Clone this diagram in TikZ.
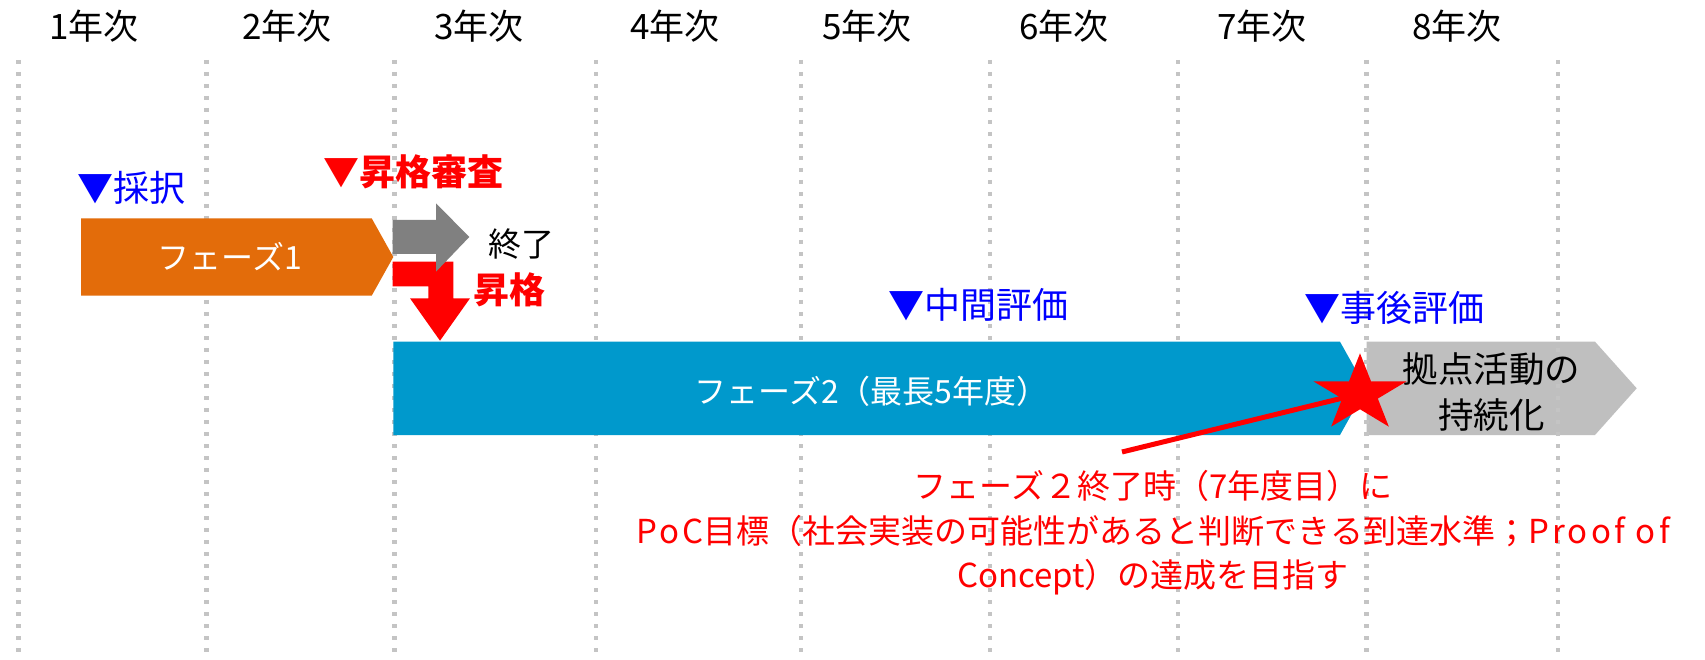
\documentclass[tikz,border=0pt]{standalone}
\usepackage{fontspec}
\setmainfont{Noto Sans CJK JP}
\definecolor{orng}{HTML}{E36C0A}
\definecolor{cyanbar}{HTML}{0099CC}
\definecolor{grayarrow}{HTML}{808080}
\definecolor{graybox}{HTML}{BFBFBF}
\definecolor{dotgray}{HTML}{C4C4C4}
\definecolor{pured}{HTML}{FF0000}
\definecolor{publ}{HTML}{0000FF}
\newcommand{\wideltr}[1]{{\addfontfeature{LetterSpace=10}#1}}
\begin{document}
\begin{tikzpicture}[x=1pt,y=-1pt,
  yearlbl/.style={anchor=base, inner sep=0pt, font=\fontsize{35}{42}\selectfont},
  bluelbl/.style={anchor=base, inner sep=0pt, text=publ, font=\fontsize{36}{43}\selectfont},
  redlbl/.style={anchor=base, inner sep=0pt, text=pured, font=\fontsize{36}{43}\selectfont\bfseries},
  barlbl/.style={anchor=base, inner sep=0pt, text=white, font=\fontsize{32}{38}\selectfont},
  boxlbl/.style={anchor=base, inner sep=0pt, text=black, font=\fontsize{35.5}{42}\selectfont},
  notelbl/.style={anchor=base, inner sep=0pt, text=pured, font=\fontsize{33}{40}\selectfont},
  dotline/.style={draw=dotgray, line width=4.5pt, dash pattern=on 4pt off 8pt}]
\useasboundingbox (0,0) rectangle (1705,660);
\fill[white] (0,0) rectangle (1705,660);

% gray box (below the dotted lines)
\fill[graybox] (1366.7,341.7) -- (1595,341.7) -- (1636.7,388.3) -- (1595,435) -- (1366.7,435) -- cycle;

% dotted year separators
\foreach \x in {18.3,206.7,394.3,596,801,990,1178,1366.7,1558}
  \draw[dotline] (\x,60) -- (\x,660);

% year labels
\node[yearlbl] (y1) at (94,40) {1年次};
\node[yearlbl] (y2) at (287,40) {2年次};
\node[yearlbl] (y3) at (479,40) {3年次};
\node[yearlbl] (y4) at (675,40) {4年次};
\node[yearlbl] (y5) at (867,40) {5年次};
\node[yearlbl] (y6) at (1064,40) {6年次};
\node[yearlbl] (y7) at (1262,40) {7年次};
\node[yearlbl] (y8) at (1457,40) {8年次};

% phase 1
\fill[orng] (81,218.3) -- (371.7,218.3) -- (393.3,257) -- (371.7,295.7) -- (81,295.7) -- cycle;
\node[barlbl] (p1) at (230,270) {フェーズ1};

% red bent arrow (promotion)
\fill[pured] (392.7,261.7) -- (453.3,261.7) -- (453.3,298.3) -- (470,298.3) -- (440,340.7)
  -- (410,298.3) -- (428.3,298.3) -- (428.3,286.3) -- (392.7,286.3) -- cycle;
% gray arrow (end)
\fill[grayarrow] (392.7,220) -- (436,220) -- (436,203.3) -- (469.3,237) -- (436,271.7)
  -- (436,254) -- (392.7,254) -- cycle;

% phase 2
\fill[cyanbar] (393.3,341.7) -- (1340,341.7) -- (1366,388.3) -- (1340,435) -- (393.3,435) -- cycle;
\node[barlbl] (p2) at (871.7,403) {フェーズ2（最長5年度）};

% box text
\node[boxlbl] (k1) at (1491.7,382) {拠点活動の};
\node[boxlbl] (k2) at (1491.7,428) {持続化};

% milestone labels
\node[bluelbl] (saitaku) at (131.5,202) {▼採択};
\node[redlbl] (shinsa) at (413.3,186) {▼昇格審査};
\node[anchor=base, inner sep=0pt, font=\fontsize{33}{40}\selectfont] (shuryo) at (521.7,256.5) {終了};
\node[redlbl] (shokaku) at (509,303.7) {昇格};
\node[bluelbl] (chukan) at (978,318.7) {▼中間評価};
\node[bluelbl] (jigo) at (1394,321.7) {▼事後評価};

% callout
\coordinate (starc) at (1360,393.8);
\coordinate (callout) at (1122,452);
\draw[pured, line width=5pt] (callout) -- (starc);
\fill[pured] (1360,353.3) -- (1371.0,381.3) -- (1406.6,381.3) -- (1377.8,398.6) -- (1388.8,426.6)
  -- (1360,409.3) -- (1331.2,426.6) -- (1342.2,398.6) -- (1313.4,381.3) -- (1349.0,381.3) -- cycle;

\node[notelbl] (n1) at (1153,498.5) {フェーズ２終了時（7年度目）に};
\node[notelbl] (n2) at (1153,543.5) {\wideltr{PoC}目標（社会実装の可能性があると判断できる到達水準；\wideltr{Proof of}};
\node[notelbl] (n3) at (1153,587.5) {Concept）の達成を目指す};
\end{tikzpicture}
\end{document}
